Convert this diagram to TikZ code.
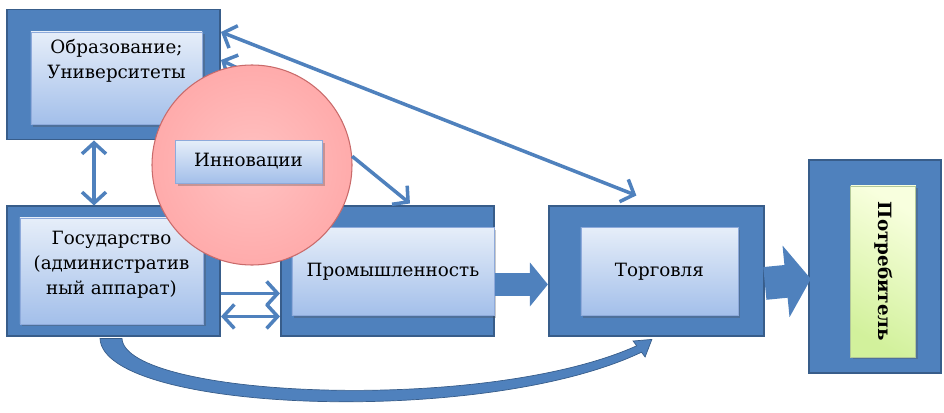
\documentclass[tikz,border=0pt]{standalone}
\usepackage{fontspec}
\setmainfont{DejaVu Serif}
\newfontfamily\ruserif{DejaVu Serif}
\usetikzlibrary{arrows.meta,positioning,calc,shadows}
\definecolor{boxblue}{HTML}{4F81BD}
\definecolor{boxedge}{HTML}{385D8A}
\definecolor{paletop}{HTML}{E6EEF9}
\definecolor{palebot}{HTML}{A3BFEA}
\definecolor{paleedge}{HTML}{8EAADB}
\definecolor{pinkfill}{HTML}{FFABAB}
\definecolor{pinkcore}{HTML}{FFC2C2}
\definecolor{pinkedge}{HTML}{C96A6A}
\definecolor{limetop}{HTML}{F8FFDE}
\definecolor{limebot}{HTML}{D2F19C}
\definecolor{limeedge}{HTML}{B3C899}

\begin{document}
\begin{tikzpicture}[
  x=0.2mm, y=-0.2mm,
  font=\ruserif\fontsize{10.4}{14.2}\selectfont,
  >={Straight Barb[length=2.2mm, width=4.8mm]},
  shell/.style = {draw=boxedge, line width=1.1pt, fill=boxblue, inner sep=0pt,
                  minimum width=42.6mm, minimum height=26mm},
  pane/.style  = {draw=paleedge, line width=0.4pt, top color=paletop, bottom color=palebot,
                  align=center, inner sep=0pt,
                  drop shadow={shadow xshift=0.5mm, shadow yshift=-0.5mm, opacity=0.3, fill=black!70}},
  lime/.style  = {pane, draw=limeedge, top color=limetop, bottom color=limebot, shading angle=-30},
  blob/.style  = {circle, minimum size=40mm, inner sep=0pt, draw=pinkedge, line width=0.6pt,
                  inner color=pinkcore, outer color=pinkfill},
  ln/.style    = {draw=boxblue, line width=2pt},
  blk/.style   = {draw=boxblue, fill=boxblue},
  txt/.style   = {align=center, inner sep=0pt},
]
\useasboundingbox (0,0) rectangle (944,412);

% --- the five blocks -----------------------------------------------------------------------------
\node[shell] (edu) at (113.5,74.5) {};
\node[shell, below=13mm of edu] (gov) {};
\node[shell, right=11.8mm of gov] (prom) {};
\node[shell, right=10.6mm of prom, minimum width=43mm] (torg) {};
\node[shell, right=8.6mm of torg, minimum width=26.4mm, minimum height=42.6mm, yshift=0.9mm] (potr) {};

% --- the light panes inside them -----------------------------------------------------------------
\node[pane, minimum width=34.2mm, minimum height=18.4mm, xshift=0.6mm, yshift=-0.7mm,
      label={[txt, anchor=north, yshift=-1.5mm]north:Образование;\\Университеты}] (edup) at (edu) {};
\node[pane, minimum width=36.6mm, minimum height=21.2mm, xshift=-0.4mm, yshift=0.1mm,
      label={[txt, yshift=1.2mm]center:Государство\\(административ\\ный аппарат)}] (govp) at (gov) {};
\node[pane, minimum width=40.4mm, minimum height=17.6mm, xshift=1.1mm] (promp) at (prom) {Промышленность};
\node[pane, minimum width=31.4mm, minimum height=17.6mm, xshift=0.6mm] (torgp) at (torg) {Торговля};
\node[lime, minimum width=13mm, minimum height=34.2mm, xshift=1.7mm, yshift=-0.9mm] (potrp) at (potr)
      {\rotatebox{-90}{\bfseries Потребитель}};

% --- thin links ----------------------------------------------------------------------------------
\draw[ln, <->] ([xshift=-3.9mm]edu.south) -- ([xshift=-3.9mm]gov.north);
\draw[ln, <->] ([yshift=8.5mm]edu.east) -- ([xshift=-4mm, yshift=2mm]torg.north);
\draw[ln, ->]  ([yshift=-4.4mm]gov.east) -- ([yshift=-4.4mm]prom.west);
\draw[ln, <->] ([yshift=-9mm]gov.east) -- ([yshift=-9mm]prom.west);
\coordinate (innsrc) at (262,80);
\draw[ln, ->]  (innsrc) -- ([yshift=2.9mm]edu.east);

% --- wide arrows along the chain -----------------------------------------------------------------
\draw[blk, line width=13pt, -{Triangle[length=10.2pt, width=24.4pt]}]
  ([yshift=-2.6mm]prom.east) -- ([yshift=-2.6mm]torg.west);
\draw[blk, line width=18.7pt, -{Triangle[length=14.2pt, width=40.3pt]}]
  ([yshift=-2.4mm]torg.east) -- ([yshift=-2.4mm, xshift=0.6mm]potr.west);

% --- the sweep from the state down and round to trade --------------------------------------------
\fill[boxblue, draw=boxedge, line width=0.4pt]
  ($(gov.south)+(-13.5,1)$) .. controls +(3,74) and +(-157.6,75.2) .. ($(torg.south)+(-14.9,14.8)$)
  -- ($(torg.south)+(-11.3,19.6)$) -- ($(torg.south)+(-4.5,2)$) -- ($(torg.south)+(-23.3,3.6)$)
  -- ($(torg.south)+(-19.7,8.4)$) .. controls +(-152.8,68.6) and +(3,59) .. ($(gov.south)+(8.5,1)$)
  -- cycle;

% --- innovation on top ---------------------------------------------------------------------------
\node[blob] (circ) at (252,165) {};
\node[pane, minimum width=29.4mm, minimum height=8.6mm] (innov) at (248.5,161.5) {Инновации};
\draw[ln, ->] (circ.5) -- ([xshift=4.5mm, yshift=0.4mm]prom.north);

\end{tikzpicture}
\end{document}
